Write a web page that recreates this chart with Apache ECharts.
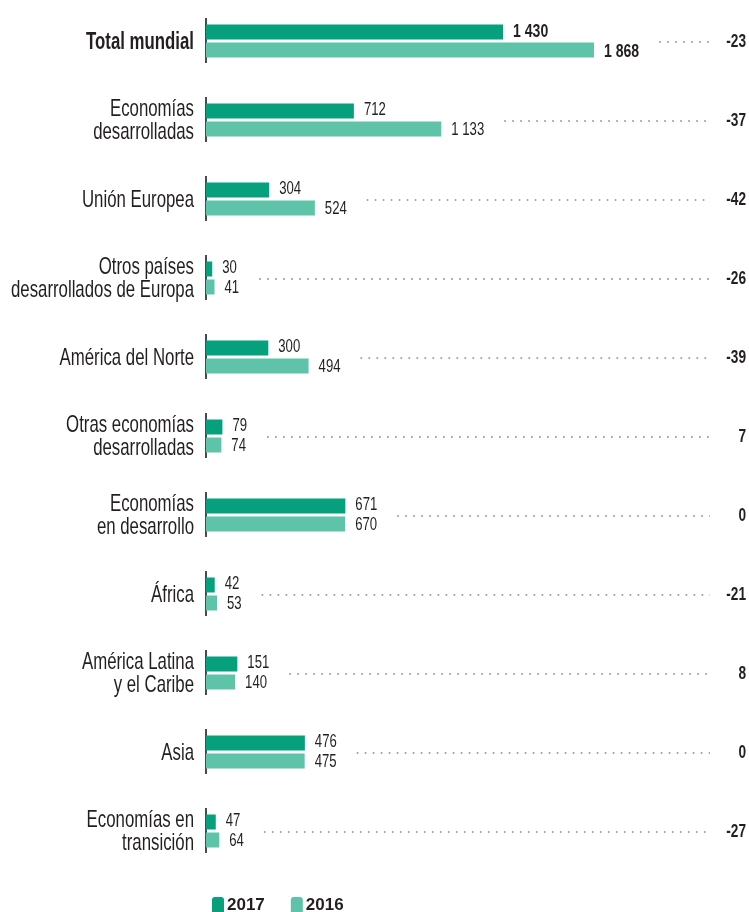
<!DOCTYPE html>
<html>
<head>
<meta charset="utf-8">
<script src="https://cdn.jsdelivr.net/npm/echarts@6/dist/echarts.min.js"></script>
<style>
  html, body { margin: 0; padding: 0; background: #ffffff; }
  #chart { width: 749px; height: 912px; }
</style>
</head>
<body>
<div id="chart"></div>
<script>
// Regions (top to bottom)
const categories = [
  'Total mundial',
  'Economías\ndesarrolladas',
  'Unión Europea',
  'Otros países\ndesarrollados de Europa',
  'América del Norte',
  'Otras economías\ndesarrolladas',
  'Economías\nen desarrollo',
  'África',
  'América Latina\ny el Caribe',
  'Asia',
  'Economías en\ntransición'
];
// Values per region
const values2017 = [1430, 712, 304, 30, 300, 79, 671, 42, 151, 476, 47];
const values2016 = [1868, 1133, 524, 41, 494, 74, 670, 53, 140, 475, 64];
// Percentage change shown in the right-hand column
const pctChange = [-23, -37, -42, -26, -39, 7, 0, -21, 8, 0, -27];
const seriesNames = ['2017', '2016'];

const COLOR_2017 = '#06a07c';
const COLOR_2016 = '#5ec3a9';
const TEXT = '#231f20';
const FONT = '"Liberation Sans", Arial, sans-serif';

// Narrow type: regular face squeezed horizontally
const CAT = { size: 24, sx: 0.70 };
const VAL = { size: 18, sx: 0.73 };
const VAL_TOTAL = { size: 19, sx: 0.74 };
const PCT = { size: 18, sx: 0.76 };

function fmt(v) {
  return String(v).replace(/\B(?=(\d{3})+(?!\d))/g, ' ');
}

const measureCtx = document.createElement('canvas').getContext('2d');
function textWidth(txt, weight, spec) {
  measureCtx.font = weight + ' ' + spec.size + 'px ' + FONT;
  return measureCtx.measureText(txt).width * spec.sx;
}

function narrowText(x, y, txt, spec, weight, align, lineHeight) {
  return {
    type: 'text',
    x: x,
    y: y,
    scaleX: spec.sx,
    style: {
      text: txt,
      align: align,
      verticalAlign: 'middle',
      fontFamily: FONT,
      fontSize: spec.size,
      fontWeight: weight,
      lineHeight: lineHeight || spec.size,
      fill: TEXT
    }
  };
}

const chart = echarts.init(document.getElementById('chart'), null, { renderer: 'canvas' });

const option = {
  animation: false,
  backgroundColor: '#ffffff',
  grid: { left: 206, top: 1.5, height: 869, width: 415.4, containLabel: false, outerBoundsMode: 'none' },
  legend: {
    data: seriesNames,
    left: 207,
    top: 892,
    itemWidth: 12,
    itemHeight: 17,
    itemGap: 26,
    icon: 'roundRect',
    selectedMode: false,
    textStyle: { fontFamily: FONT, fontSize: 17, fontWeight: 'bold', color: TEXT, padding: [0, 0, 0, -2] }
  },
  xAxis: { type: 'value', min: 0, max: 2000, show: false },
  yAxis: {
    type: 'category',
    inverse: true,
    data: categories,
    axisLine: { show: false },
    axisTick: { show: false },
    axisLabel: { show: false }
  },
  series: [
    {
      name: '2017',
      type: 'bar',
      barWidth: 15,
      barGap: '20%',
      itemStyle: { color: COLOR_2017 },
      silent: true,
      data: values2017
    },
    {
      name: '2016',
      type: 'bar',
      barWidth: 15,
      itemStyle: { color: COLOR_2016 },
      silent: true,
      data: values2016
    },
    {
      // Region name, axis segment, value labels, dotted leader and percentage change
      type: 'custom',
      silent: true,
      clip: false,
      encode: { x: 0, y: 1 },
      data: categories.map((c, i) => [Math.max(values2017[i], values2016[i]), i]),
      renderItem: function (params, api) {
        const i = params.dataIndex;
        const base = api.coord([0, i]);
        const x0 = base[0], y = base[1];
        const bold = i === 0;
        const vSpec = bold ? VAL_TOTAL : VAL;
        const weight = bold ? 'bold' : 'normal';
        const x17 = api.coord([values2017[i], i])[0] + 10;
        const x16 = api.coord([values2016[i], i])[0] + 10;
        const t17 = fmt(values2017[i]);
        const t16 = fmt(values2016[i]);
        const end = Math.max(x17 + textWidth(t17, weight, vSpec), x16 + textWidth(t16, weight, vSpec));
        const dotStart = end + 20;
        const width = api.getWidth();
        const dotEnd = width - 39;
        const children = [
          narrowText(x0 - 12, y + 1, categories[i], CAT, bold ? 'bold' : 'normal', 'right', 23),
          {
            type: 'line',
            shape: { x1: x0, y1: y - 23, x2: x0, y2: y + 22 },
            style: { stroke: '#4a4a4a', lineWidth: 2 }
          },
          narrowText(x17, y - 9.5, t17, vSpec, weight, 'left'),
          narrowText(x16, y + 10.5, t16, vSpec, weight, 'left'),
          narrowText(width - 3, y + 1, String(pctChange[i]), PCT, 'bold', 'right')
        ];
        if (dotEnd > dotStart) {
          children.push({
            type: 'line',
            shape: { x1: dotStart, y1: y + 1, x2: dotEnd, y2: y + 1 },
            style: { stroke: '#a3a3a3', lineWidth: 2, lineDash: [1.6, 6.4] }
          });
        }
        return { type: 'group', children: children };
      }
    }
  ]
};

chart.setOption(option);
</script>
</body>
</html>
